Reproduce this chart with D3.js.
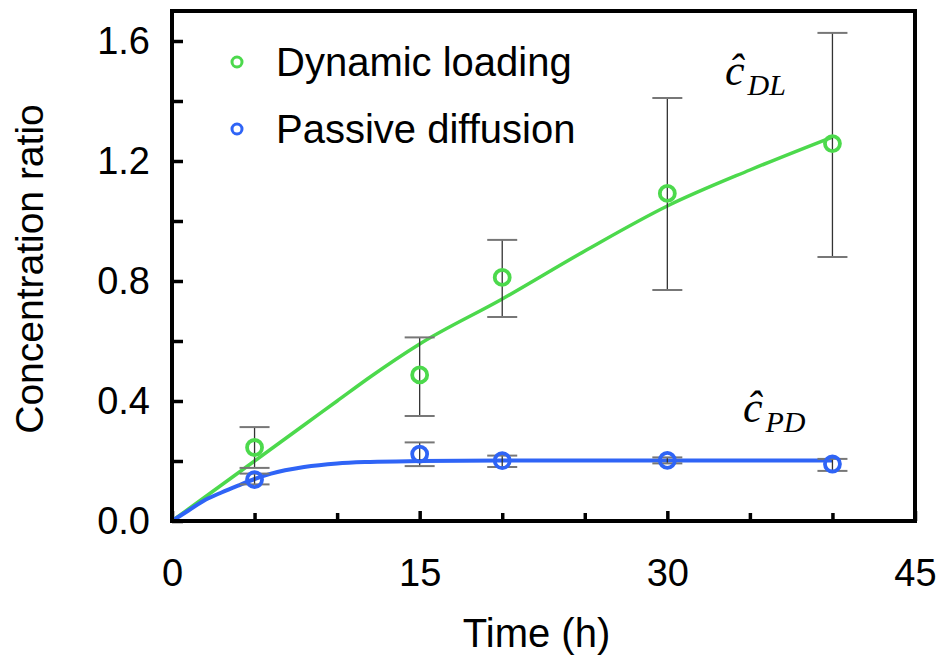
<!DOCTYPE html>
<html>
<head>
<meta charset="utf-8">
<script src="https://cdn.jsdelivr.net/npm/d3@7"></script>
<style>
  html, body { margin: 0; padding: 0; background: #fff; }
  svg { display: block; }
</style>
</head>
<body>
<svg id="chart" width="942" height="658"></svg>
<script>
// Measured concentration ratios (mean, lower, upper) at each sampling time
const times = [5, 15, 20, 30, 40];
const dlMean = [0.245, 0.487, 0.812, 1.092, 1.258];
const dlLow  = [0.177, 0.350, 0.680, 0.770, 0.880];
const dlHigh = [0.313, 0.612, 0.937, 1.410, 1.627];
const pdMean = [0.138, 0.223, 0.201, 0.202, 0.190];
const pdLow  = [0.122, 0.183, 0.180, 0.192, 0.167];
const pdHigh = [0.158, 0.262, 0.218, 0.212, 0.207];

// Model curves
const dlFitT = [0, 1, 2, 3, 5, 8, 10, 12, 15, 20, 25, 30, 35, 40];
const dlFitC = [0, 0.04, 0.08, 0.12, 0.20, 0.32, 0.40, 0.48, 0.59, 0.74, 0.90, 1.05, 1.17, 1.28];
const pdFitT = [0, 1, 2, 3, 4, 5, 6, 8, 10, 12, 15, 20, 30, 40];
const pdFitC = [0, 0.035, 0.07, 0.095, 0.118, 0.14, 0.158, 0.18, 0.192, 0.197, 0.200, 0.202, 0.202, 0.202];

const xTicks = [0, 15, 30, 45];
const xMinor = [5, 10, 20, 25, 35, 40];
const yTicks = [0, 0.4, 0.8, 1.2, 1.6];
const yMinor = [0.2, 0.6, 1.0, 1.4];

const green = "#4cd94c";
const blue = "#2f64f6";

const svg = d3.select("#chart");
const plotL = 172, plotR = 915, plotT = 11, plotB = 521;

const x = d3.scaleLinear().domain([0, 45]).range([plotL, plotR]);
const y = d3.scaleLinear().domain([0, 1.7]).range([plotB, plotT]);

const sans = "'Liberation Sans', Arial, Helvetica, sans-serif";
const serif = "'Liberation Serif', 'Times New Roman', serif";

// Axes with inward ticks
const xAxisMajor = d3.axisBottom(x).tickValues(xTicks).tickSize(-10).tickPadding(38).tickFormat(d3.format("d"));
const xAxisMinor = d3.axisBottom(x).tickValues(xMinor).tickSize(-8).tickFormat("");
const yAxisMajor = d3.axisLeft(y).tickValues(yTicks).tickSize(-11).tickPadding(22).tickFormat(d3.format(".1f"));
const yAxisMinor = d3.axisLeft(y).tickValues(yMinor).tickSize(-11).tickFormat("");

function styleAxis(g) {
  g.select(".domain").remove();
  g.selectAll(".tick line").attr("stroke", "#000").attr("stroke-width", 3.5);
  g.selectAll(".tick text").attr("font-family", sans).attr("font-size", 38).attr("fill", "#000");
}

svg.append("g").attr("transform", `translate(0,${plotB})`).call(xAxisMajor).call(styleAxis);
svg.append("g").attr("transform", `translate(0,${plotB})`).call(xAxisMinor).call(styleAxis);
svg.append("g").attr("transform", `translate(${plotL},0)`).call(yAxisMajor).call(styleAxis);
svg.append("g").attr("transform", `translate(${plotL},0)`).call(yAxisMinor).call(styleAxis);

// Fitted curves
const line = d3.line().curve(d3.curveMonotoneX);
svg.append("path")
  .attr("d", line(dlFitT.map((t, i) => [x(t), y(dlFitC[i])])))
  .attr("fill", "none").attr("stroke", green).attr("stroke-width", 3.5);
svg.append("path")
  .attr("d", line(pdFitT.map((t, i) => [x(t), y(pdFitC[i])])))
  .attr("fill", "none").attr("stroke", blue).attr("stroke-width", 4);

// Error bars and markers
function drawSeries(mean, low, high, color) {
  const g = svg.append("g");
  times.forEach((t, i) => {
    const cx = x(t);
    g.append("line").attr("x1", cx).attr("x2", cx).attr("y1", y(low[i])).attr("y2", y(high[i]))
      .attr("stroke", "#333").attr("stroke-width", 1.3);
    [low[i], high[i]].forEach(v => {
      g.append("line").attr("x1", cx - 15).attr("x2", cx + 15).attr("y1", y(v)).attr("y2", y(v))
        .attr("stroke", "#777").attr("stroke-width", 2);
    });
  });
  g.selectAll("circle").data(times).join("circle")
    .attr("cx", d => x(d)).attr("cy", (d, i) => y(mean[i])).attr("r", 7.5)
    .attr("fill", "none").attr("stroke", color).attr("stroke-width", 3.8);
}
drawSeries(dlMean, dlLow, dlHigh, green);
drawSeries(pdMean, pdLow, pdHigh, blue);

// Frame
svg.append("rect").attr("x", plotL).attr("y", plotT).attr("width", plotR - plotL).attr("height", plotB - plotT)
  .attr("fill", "none").attr("stroke", "#000").attr("stroke-width", 4);

// Axis titles
svg.append("text").attr("x", (plotL + plotR) / 2 - 7).attr("y", 647).attr("text-anchor", "middle")
  .attr("font-family", sans).attr("font-size", 40).text("Time (h)");
svg.append("text").attr("transform", `translate(43,${(plotT + plotB) / 2 + 3}) rotate(-90)`)
  .attr("text-anchor", "middle").attr("font-family", sans).attr("font-size", 39).text("Concentration ratio");

// Legend
const legend = [
  { label: "Dynamic loading", color: green, yPos: 62 },
  { label: "Passive diffusion", color: blue, yPos: 129 }
];
legend.forEach(d => {
  svg.append("circle").attr("cx", 237).attr("cy", d.yPos).attr("r", 5)
    .attr("fill", "none").attr("stroke", d.color).attr("stroke-width", 3);
  svg.append("text").attr("x", 276).attr("y", d.yPos + 14)
    .attr("font-family", sans).attr("font-size", 40).text(d.label);
});

// Curve annotations
function annotate(px, py, sub) {
  const t = svg.append("text").attr("x", px).attr("y", py)
    .attr("font-family", serif).attr("font-style", "italic").attr("font-size", 44);
  t.append("tspan").text("\u0109");
  t.append("tspan").attr("font-size", 30).attr("dx", 3).attr("dy", 10).text(sub);
}
annotate(725, 85, "DL");
annotate(743, 422, "PD");
</script>
</body>
</html>
